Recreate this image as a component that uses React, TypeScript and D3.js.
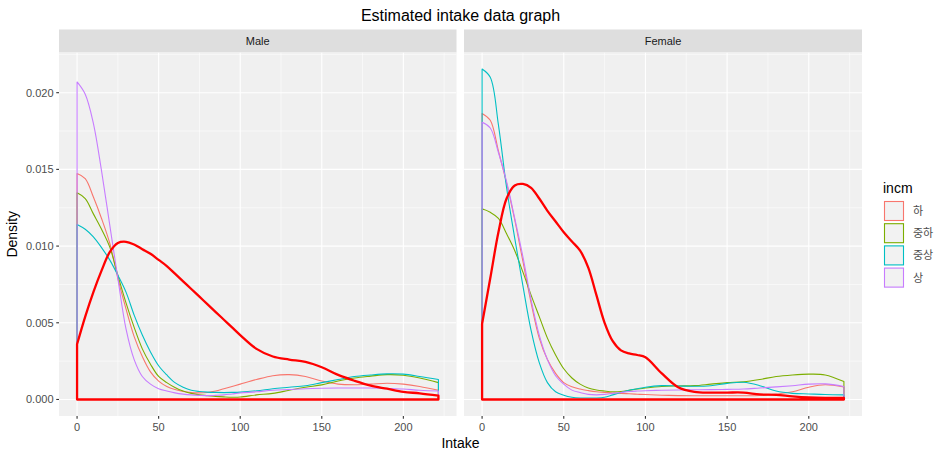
import React from "react";
import * as d3 from "d3";

// Intake grid (x values shared by every density curve)
const intake = [0, 5, 10, 15, 20, 25, 30, 35, 40, 45, 50, 55, 60, 65, 70, 75, 80, 85, 90, 95, 100,
  110, 120, 130, 140, 150, 160, 170, 180, 190, 200, 210, 221.5];

// Male densities by income group
const maleHa = [0.01473, 0.0144, 0.0132, 0.0118, 0.0102, 0.0079, 0.0059, 0.0041, 0.0028, 0.0018, 0.0012, 0.00085, 0.00065, 0.00052, 0.00045, 0.00043, 0.00046, 0.00055, 0.0007, 0.00085, 0.001,
  0.0013, 0.00155, 0.00162, 0.0015, 0.0012, 0.001, 0.00096, 0.001, 0.00106, 0.001, 0.00085, 0.0006];
const maleJungha = [0.01347, 0.0131, 0.0121, 0.0111, 0.00995, 0.0081, 0.0063, 0.0047, 0.0033, 0.0023, 0.0015, 0.0011, 0.00078, 0.00055, 0.0004, 0.0003, 0.00025, 0.0002, 0.00017, 0.00015, 0.00016,
  0.0003, 0.0004, 0.0006, 0.0008, 0.00095, 0.0012, 0.0014, 0.00152, 0.00162, 0.00158, 0.0014, 0.0011];
const maleJungsang = [0.01141, 0.0111, 0.0106, 0.0099, 0.0091, 0.0081, 0.007, 0.0055, 0.0042, 0.0031, 0.0022, 0.0016, 0.0011, 0.0008, 0.0006, 0.00052, 0.00048, 0.00046, 0.00045, 0.00046, 0.00048,
  0.00057, 0.0007, 0.0008, 0.0009, 0.0011, 0.0013, 0.0015, 0.0016, 0.00167, 0.00165, 0.0015, 0.0013];
const maleSang = [0.0207, 0.0199, 0.018, 0.0149, 0.0114, 0.0079, 0.0046, 0.0026, 0.0015, 0.001, 0.0007, 0.00055, 0.00043, 0.00035, 0.0003, 0.00027, 0.00025, 0.00027, 0.0003, 0.00036, 0.00042,
  0.0005, 0.0006, 0.00065, 0.0007, 0.00073, 0.00075, 0.00075, 0.00075, 0.00072, 0.00068, 0.0006, 0.00055];
const maleAll = [0.0036, 0.0054, 0.007, 0.0084, 0.0096, 0.0102, 0.01028, 0.0101, 0.0098, 0.0095, 0.0091, 0.0087, 0.0082, 0.0077, 0.0072, 0.0067, 0.0062, 0.0057, 0.0052, 0.0047, 0.0042,
  0.0033, 0.0028, 0.0026, 0.00245, 0.0021, 0.0016, 0.00122, 0.0009, 0.0007, 0.0005, 0.0004, 0.00025];

// Female densities by income group
const femaleHa = [0.01865, 0.0182, 0.0162, 0.0141, 0.0117, 0.009, 0.0063, 0.004, 0.0026, 0.0017, 0.0011, 0.00083, 0.00068, 0.00058, 0.0005, 0.00046, 0.00042, 0.0004, 0.00037, 0.00034, 0.00032,
  0.00028, 0.00025, 0.00024, 0.00024, 0.00024, 0.00024, 0.00026, 0.00035, 0.0005, 0.0008, 0.00096, 0.00081];
const femaleJungha = [0.01243, 0.0122, 0.0118, 0.0108, 0.0097, 0.0083, 0.0068, 0.0054, 0.004, 0.0029, 0.002, 0.0014, 0.001, 0.00075, 0.00062, 0.00055, 0.0005, 0.00052, 0.0006, 0.00068, 0.00075,
  0.00085, 0.00088, 0.0009, 0.001, 0.0011, 0.00115, 0.0013, 0.0015, 0.0016, 0.00165, 0.0016, 0.00117];
const femaleJungsang = [0.02154, 0.021, 0.0179, 0.0138, 0.0105, 0.0074, 0.0045, 0.0024, 0.0011, 0.0005, 0.00028, 0.00015, 0.0001, 0.0001, 0.0001, 0.00015, 0.0003, 0.00045, 0.0006, 0.0007, 0.0008,
  0.0009, 0.00088, 0.00086, 0.0009, 0.00105, 0.00112, 0.0009, 0.00055, 0.0004, 0.00036, 0.00032, 0.0003];
const femaleSang = [0.01807, 0.0177, 0.0161, 0.0142, 0.0118, 0.0093, 0.0065, 0.0042, 0.0026, 0.00155, 0.001, 0.00061, 0.00045, 0.00033, 0.0003, 0.00033, 0.0004, 0.00046, 0.00052, 0.00055, 0.00057,
  0.0006, 0.00062, 0.00063, 0.00064, 0.00066, 0.00068, 0.00075, 0.00082, 0.0009, 0.001, 0.00102, 0.00085];
const femaleAll = [0.00494, 0.0079, 0.0109, 0.0131, 0.01395, 0.01405, 0.0138, 0.0131, 0.0123, 0.0116, 0.0109, 0.0103, 0.0097, 0.0086, 0.0068, 0.005, 0.0038, 0.0032, 0.003, 0.0029, 0.00275,
  0.0017, 0.0008, 0.0005, 0.00045, 0.00045, 0.00045, 0.00033, 0.0003, 0.0002, 0.00013, 0.0001, 0.0001];

const groups = ["하", "중하", "중상", "상"];
const groupColors = ["#F8766D", "#7CAE00", "#00BFC4", "#C77CFF"];
const xTicks = [0, 50, 100, 150, 200];
const xMinor = [25, 75, 125, 175, 225];
const yTicks = [0, 0.005, 0.01, 0.015, 0.02];
const yMinor = [0.0025, 0.0075, 0.0125, 0.0175, 0.0225];
const facets = ["Male", "Female"];

const W = 949;
const H = 458;
const FONT = "'Liberation Sans', Arial, Helvetica, sans-serif";
const panelTop = 52.5;
const panelBottom = 416;
const stripTop = 29.5;
const panelRanges: [number, number][] = [[59, 456.5], [464, 862]];

const xDomain: [number, number] = [-11.075, 232.575];
const yDomain: [number, number] = [-0.001077, 0.02262];

export default function App() {
  const y = d3.scaleLinear().domain(yDomain).range([panelBottom, panelTop]);
  const facetData = [
    { series: [maleHa, maleJungha, maleJungsang, maleSang], all: maleAll },
    { series: [femaleHa, femaleJungha, femaleJungsang, femaleSang], all: femaleAll },
  ];

  const densityPath = (x: d3.ScaleLinear<number, number>, vals: number[]) => {
    const pts: [number, number][] = intake.map((v, i) => [x(v), y(vals[i])]);
    const line = d3.line().curve(d3.curveCatmullRom.alpha(0.5))(pts) || "";
    const x0 = x(intake[0]);
    const x1 = x(intake[intake.length - 1]);
    const yb = y(0);
    return `M${x0},${yb}L${line.slice(1)}L${x1},${yb}Z`;
  };

  return (
    <div style={{ position: "fixed", left: 0, top: 0, width: W, height: H, background: "#fff" }}>
      <svg width={W} height={H} style={{ display: "block" }} fontFamily={FONT}>
        <rect x={0} y={0} width={W} height={H} fill="#ffffff" />
        <text x={460.5} y={20.5} textAnchor="middle" fontSize={16} fill="#000">
          Estimated intake data graph
        </text>
        {facets.map((name, fi) => {
          const [l, r] = panelRanges[fi];
          const x = d3.scaleLinear().domain(xDomain).range([l, r]);
          const fd = facetData[fi];
          return (
            <g key={name}>
              <rect x={l} y={stripTop} width={r - l} height={panelTop - stripTop} fill="#DEDEDE" />
              <text x={(l + r) / 2} y={(stripTop + panelTop) / 2 + 4} textAnchor="middle" fontSize={11} fill="#1A1A1A">
                {name}
              </text>
              <rect x={l} y={panelTop} width={r - l} height={panelBottom - panelTop} fill="#F0F0F0" />
              <g clipPath={`url(#clip${fi})`}>
                <clipPath id={`clip${fi}`}>
                  <rect x={l} y={panelTop} width={r - l} height={panelBottom - panelTop} />
                </clipPath>
                {yMinor.map((t) => (
                  <line key={"ym" + t} x1={l} x2={r} y1={y(t)} y2={y(t)} stroke="#fff" strokeWidth={0.55} />
                ))}
                {xMinor.map((t) => (
                  <line key={"xm" + t} x1={x(t)} x2={x(t)} y1={panelTop} y2={panelBottom} stroke="#fff" strokeWidth={0.55} />
                ))}
                {yTicks.map((t) => (
                  <line key={"y" + t} x1={l} x2={r} y1={y(t)} y2={y(t)} stroke="#fff" strokeWidth={1.1} />
                ))}
                {xTicks.map((t) => (
                  <line key={"x" + t} x1={x(t)} x2={x(t)} y1={panelTop} y2={panelBottom} stroke="#fff" strokeWidth={1.1} />
                ))}
                {fd.series.map((vals, gi) => (
                  <path key={"s" + gi} d={densityPath(x, vals)} fill="none" stroke={groupColors[gi]} strokeWidth={1.1} strokeLinejoin="round" />
                ))}
                <path d={densityPath(x, fd.all)} fill="none" stroke="#FF0000" strokeWidth={2.3} strokeLinejoin="round" />
              </g>
              {xTicks.map((t) => (
                <g key={"xt" + t}>
                  <line x1={x(t)} x2={x(t)} y1={panelBottom} y2={panelBottom + 2.75} stroke="#333333" strokeWidth={1.1} />
                  <text x={x(t)} y={431} textAnchor="middle" fontSize={11} fill="#4D4D4D">{t}</text>
                </g>
              ))}
              {fi === 0 &&
                yTicks.map((t) => (
                  <g key={"yt" + t}>
                    <line x1={l - 2.75} x2={l} y1={y(t)} y2={y(t)} stroke="#333333" strokeWidth={1.1} />
                    <text x={l - 5.5} y={y(t) + 3.9} textAnchor="end" fontSize={11} fill="#4D4D4D">
                      {d3.format(".3f")(t)}
                    </text>
                  </g>
                ))}
            </g>
          );
        })}
        <text x={460.5} y={448} textAnchor="middle" fontSize={14} fill="#000">Intake</text>
        <text transform={`translate(17,${(panelTop + panelBottom) / 2}) rotate(-90)`} textAnchor="middle" fontSize={14} fill="#000">
          Density
        </text>
        <text x={883} y={193} fontSize={14} fill="#000">incm</text>
        {groups.map((g, i) => {
          const ky = 201 + i * 22.2;
          return (
            <g key={g}>
              <rect x={884} y={ky} width={20} height={20} fill="#F2F2F2" />
              <rect x={884.5} y={ky + 0.5} width={19} height={19} fill="none" stroke={groupColors[i]} strokeWidth={1.1} />
              <text x={913} y={ky + 14} fontSize={11} fill="#4D4D4D" fontFamily="'Noto Sans CJK KR', sans-serif">{g}</text>
            </g>
          );
        })}
      </svg>
    </div>
  );
}
